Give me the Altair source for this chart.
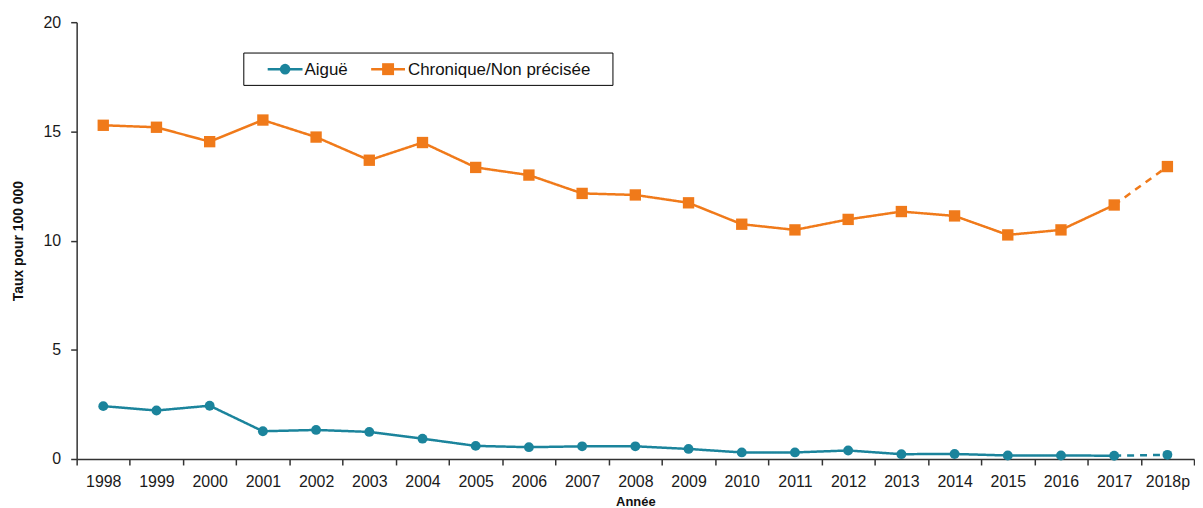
import altair as alt
import pandas as pd

annees = ["1998", "1999", "2000", "2001", "2002", "2003", "2004", "2005", "2006", "2007",
          "2008", "2009", "2010", "2011", "2012", "2013", "2014", "2015", "2016", "2017", "2018p"]
aigue = [2.42, 2.22, 2.44, 1.27, 1.33, 1.24, 0.93, 0.60, 0.54, 0.58,
         0.58, 0.46, 0.30, 0.30, 0.39, 0.22, 0.23, 0.16, 0.16, 0.15, 0.19]
chronique = [15.28, 15.19, 14.53, 15.52, 14.74, 13.68, 14.49, 13.35, 13.00, 12.16,
             12.09, 11.73, 10.75, 10.49, 10.97, 11.33, 11.13, 10.26, 10.49, 11.63, 13.39]
series_names = ["Aiguë", "Chronique/Non précisée"]
colors = ["#1B849C", "#F07A1A"]

n = len(annees)
rows = []
line_rows = []
for name, vals in zip(series_names, [aigue, chronique]):
    for i, v in enumerate(vals):
        rows.append({"idx": i, "annee": annees[i], "serie": name, "val": v})
        if i <= n - 2:
            line_rows.append({"idx": i, "serie": name, "val": v, "seg": "obs"})
        if i >= n - 2:
            line_rows.append({"idx": i, "serie": name, "val": v, "seg": "proj"})
pts = pd.DataFrame(rows)
lines = pd.DataFrame(line_rows)

FONT = "Liberation Sans"
tick_values = [k / 2 - 0.5 for k in range(2 * n + 1)]
label_arr = "[" + ",".join("'" + a + "'" for a in annees) + "]"
label_expr = f"datum.value % 1 === 0 ? {label_arr}[datum.value] : ''"

x_enc = alt.X(
    "idx:Q",
    scale=alt.Scale(domain=[-0.5, n - 0.5], nice=False, zero=False),
    axis=alt.Axis(
        title="Année", values=tick_values, labelExpr=label_expr,
        labelOverlap=False, labelFlush=False, grid=False,
        tickSize=6, labelPadding=9, labelFontSize=16, titleFontSize=13,
        titleFontWeight="bold", titlePadding=6,
        tickOpacity={"condition": {"test": "datum.value % 1 !== 0", "value": 1}, "value": 0},
    ),
)
y_enc = alt.Y(
    "val:Q",
    scale=alt.Scale(domain=[0, 20], nice=False),
    axis=alt.Axis(
        title="Taux pour 100 000", values=[0, 5, 10, 15, 20], grid=False,
        tickSize=6, labelPadding=10, labelFontSize=16, titleFontSize=14,
        titleFontWeight="bold", titlePadding=18,
    ),
)

color_scale = alt.Scale(domain=series_names, range=colors)

line_layer = alt.Chart(lines).mark_line(strokeWidth=2.5).encode(
    x=x_enc, y=y_enc,
    color=alt.Color("serie:N", scale=color_scale, legend=None),
    strokeDash=alt.StrokeDash("seg:N", scale=alt.Scale(domain=["obs", "proj"], range=[[1, 0], [7, 6]]), legend=None),
    detail="serie:N",
)

circ_layer = alt.Chart(pts).transform_filter(
    alt.datum.serie == series_names[0]
).mark_circle(size=98, opacity=1).encode(
    x=x_enc, y=y_enc, color=alt.Color("serie:N", scale=color_scale, legend=None)
)
sq_layer = alt.Chart(pts).transform_filter(
    alt.datum.serie == series_names[1]
).mark_square(size=130, opacity=1).encode(
    x=x_enc, y=y_enc, color=alt.Color("serie:N", scale=color_scale, legend=None)
)

# Legend box drawn with marks (pixel positions inside the plot area)
one = alt.Data(values=[{}])
LY = 47.2
leg_box = alt.Chart(one).mark_rect(fill="white", stroke="black", strokeWidth=1).encode(
    x=alt.value(168), x2=alt.value(539), y=alt.value(31), y2=alt.value(63.5)
)
leg_layers = [leg_box]
entries = [
    (192, 227, "circle", 113, 229),
    (296, 330, "square", 144, 333),
]
for (x0, x1, shp, sz, tx), name, col in zip(entries, series_names, colors):
    leg_layers.append(alt.Chart(one).mark_rule(color=col, strokeWidth=2.5).encode(
        x=alt.value(x0), x2=alt.value(x1), y=alt.value(LY)))
    leg_layers.append(alt.Chart(one).mark_point(shape=shp, filled=True, size=sz, color=col, opacity=1).encode(
        x=alt.value((x0 + x1) / 2), y=alt.value(LY)))
    leg_layers.append(alt.Chart(one).mark_text(align="left", baseline="middle", fontSize=17, font=FONT, color="#111").encode(
        x=alt.value(tx), y=alt.value(LY + 0.5), text=alt.value(name)))

chart = alt.layer(line_layer, circ_layer, sq_layer, *leg_layers).properties(
    width=1123, height=439,
    padding={"left": 3, "top": 5, "right": 0, "bottom": 0},
).configure_view(stroke=None).configure_axis(
    domainColor="#333", tickColor="#333", labelColor="#1a1a1a", titleColor="#111",
    labelFont=FONT, titleFont=FONT, domainWidth=1.5, tickWidth=1.5,
)

chart.save("out.html", embed_options={"renderer": "svg", "actions": False})
